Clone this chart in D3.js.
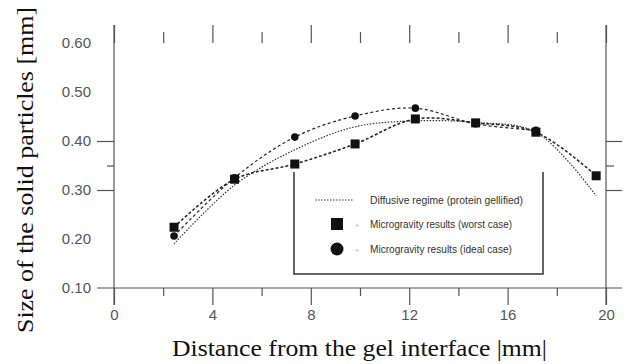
<!DOCTYPE html>
<html>
<head lang="en">
    <meta charset="UTF-8">
    <title>particles</title>
    <style>
        body { margin: 0; background: #fff; }
        .tick text { font-family: "Liberation Sans", Arial, sans-serif; font-size: 15px; fill: #555; }
        .title { font-family: "Liberation Serif", "Times New Roman", serif; font-size: 23px; fill: #111; }
        .legend text { font-family: "Liberation Sans", Arial, sans-serif; font-size: 10px; fill: #333; }
        .frame { stroke: #555; stroke-width: 1.2; }
    </style>
</head>
<body>
<svg width="629" height="364"></svg>

<script src="https://cdnjs.cloudflare.com/ajax/libs/d3/7.8.5/d3.min.js"></script>
<script>
    var distance = [2.44, 4.9, 7.35, 9.8, 12.25, 14.7, 17.15, 19.6];
    var worstCase = [0.224, 0.322, 0.353, 0.394, 0.445, 0.437, 0.418, 0.329];
    var idealCase = [0.206, 0.325, 0.408, 0.451, 0.467, 0.435, 0.422];
    var diffusive = [0.19, 0.31, 0.382, 0.429, 0.441, 0.438, 0.418, 0.288];
    var xTicks = [0, 4, 8, 12, 16, 20];
    var xMinorTicks = [2, 6, 10, 14, 18];
    var yTicks = [0.10, 0.20, 0.30, 0.40, 0.50, 0.60];
    var yMarkedTicks = [0.30, 0.40];
    var yMinorTicks = [0.35];
    var legendLabels = ["Diffusive regime (protein gellified)",
        "Microgravity results (worst case)",
        "Microgravity results (ideal case)"];

    var svg = d3.select("svg");

    var x = d3.scaleLinear().domain([0, 20]).range([114, 606]);
    var y = d3.scaleLinear().domain([0.10, 0.60]).range([288, 43]);

    // frame lines (they run a bit past the plot like in the scan)
    svg.append("line").attr("class", "frame")
            .attr("x1", x(0) - 17).attr("x2", x(20) + 16)
            .attr("y1", y(0.10)).attr("y2", y(0.10));
    svg.append("line").attr("class", "frame")
            .attr("x1", x(0)).attr("x2", x(0))
            .attr("y1", y(0.60) - 18).attr("y2", y(0.10) + 17);
    svg.append("line").attr("class", "frame")
            .attr("x1", x(20)).attr("x2", x(20))
            .attr("y1", y(0.60) - 18).attr("y2", y(0.10) + 17);

    function cleanAxis(g) {
        g.select(".domain").remove();
        g.selectAll(".tick line").attr("stroke", "#555").attr("stroke-width", 1.2);
    }

    // bottom
    svg.append("g").attr("transform", "translate(0," + y(0.10) + ")")
            .call(d3.axisBottom(x).tickValues(xTicks).tickSize(17).tickPadding(4).tickFormat(d3.format("d")))
            .call(cleanAxis);
    svg.append("g").attr("transform", "translate(0," + y(0.10) + ")")
            .call(d3.axisBottom(x).tickValues(xMinorTicks).tickSize(8).tickFormat(""))
            .call(cleanAxis);

    // top ticks, no line
    svg.append("g").attr("transform", "translate(0," + y(0.60) + ")")
            .call(d3.axisTop(x).tickValues(xTicks).tickSize(18).tickFormat(""))
            .call(cleanAxis);
    svg.append("g").attr("transform", "translate(0," + y(0.60) + ")")
            .call(d3.axisTop(x).tickValues(xMinorTicks).tickSize(11).tickFormat(""))
            .call(cleanAxis);

    // left labels + the few ticks that survive
    svg.append("g").attr("transform", "translate(" + x(0) + ",0)")
            .call(d3.axisLeft(y).tickValues(yTicks).tickSize(0).tickPadding(23).tickFormat(d3.format(".2f")))
            .call(cleanAxis);
    svg.append("g").attr("transform", "translate(" + x(0) + ",0)")
            .call(d3.axisLeft(y).tickValues(yMarkedTicks).tickSize(17).tickFormat(""))
            .call(cleanAxis);
    svg.append("g").attr("transform", "translate(" + x(0) + ",0)")
            .call(d3.axisLeft(y).tickValues(yMinorTicks).tickSize(7).tickFormat(""))
            .call(cleanAxis);

    // right ticks
    svg.append("g").attr("transform", "translate(" + x(20) + ",0)")
            .call(d3.axisRight(y).tickValues(yMarkedTicks).tickSize(16).tickFormat(""))
            .call(cleanAxis);
    svg.append("g").attr("transform", "translate(" + x(20) + ",0)")
            .call(d3.axisRight(y).tickValues(yMinorTicks).tickSize(8).tickFormat(""))
            .call(cleanAxis);

    // titles
    svg.append("text").attr("class", "title")
            .attr("x", 172).attr("y", 356)
            .attr("textLength", 375).attr("lengthAdjust", "spacingAndGlyphs")
            .text("Distance from the gel interface |mm|");
    svg.append("text").attr("class", "title")
            .attr("transform", "translate(33,333) rotate(-90)")
            .attr("textLength", 326).attr("lengthAdjust", "spacingAndGlyphs")
            .text("Size of the solid particles [mm]");

    // series
    var curve = d3.line()
            .x(function (d) { return x(d[0]); })
            .y(function (d) { return y(d[1]); })
            .curve(d3.curveCatmullRom.alpha(0.5));

    var diffPts = distance.map(function (d, i) { return [d, diffusive[i]]; });
    var worstPts = distance.map(function (d, i) { return [d, worstCase[i]]; });
    var idealPts = idealCase.map(function (v, i) { return [distance[i], v]; });

    svg.append("path").attr("d", curve(diffPts))
            .attr("fill", "none").attr("stroke", "#333")
            .attr("stroke-width", 1.2).attr("stroke-dasharray", "1.5,1.5");
    svg.append("path").attr("d", curve(worstPts))
            .attr("fill", "none").attr("stroke", "#222")
            .attr("stroke-width", 1.5).attr("stroke-dasharray", "3,2");
    svg.append("path").attr("d", curve(idealPts))
            .attr("fill", "none").attr("stroke", "#222")
            .attr("stroke-width", 1.2).attr("stroke-dasharray", "3,2.5");

    svg.selectAll("rect.worst")
            .data(worstPts)
            .enter()
            .append("rect")
            .attr("class", "worst")
            .attr("x", function (d) { return x(d[0]) - 4.5; })
            .attr("y", function (d) { return y(d[1]) - 4.5; })
            .attr("width", 9).attr("height", 9)
            .attr("fill", "#111");

    svg.selectAll("circle.ideal")
            .data(idealPts)
            .enter()
            .append("circle")
            .attr("class", "ideal")
            .attr("cx", function (d) { return x(d[0]); })
            .attr("cy", function (d) { return y(d[1]); })
            .attr("r", 3.8)
            .attr("fill", "#111");

    // legend
    var lg = svg.append("g").attr("class", "legend");
    lg.append("rect").attr("x", 294).attr("y", 172).attr("width", 249).attr("height", 102)
            .attr("fill", "#fff");
    lg.append("path").attr("d", "M294,172 V274 H543 V172")
            .attr("fill", "none").attr("stroke", "#333").attr("stroke-width", 1.5);

    lg.append("line").attr("x1", 315).attr("x2", 353).attr("y1", 200).attr("y2", 200)
            .attr("stroke", "#333").attr("stroke-width", 1.2).attr("stroke-dasharray", "1.5,1.5");
    lg.append("rect").attr("x", 331).attr("y", 218).attr("width", 12).attr("height", 12).attr("fill", "#111");
    lg.append("circle").attr("cx", 337).attr("cy", 249).attr("r", 6.5).attr("fill", "#111");

    var legendWidths = [153, 142, 142];
    lg.selectAll("text.lab")
            .data(legendLabels)
            .enter()
            .append("text")
            .attr("class", "lab")
            .attr("x", 370)
            .attr("y", function (d, i) { return 203.5 + i * 24.5; })
            .attr("textLength", function (d, i) { return legendWidths[i]; })
            .attr("lengthAdjust", "spacingAndGlyphs")
            .text(function (d) { return d; });
    lg.selectAll("text.plus")
            .data([1, 2])
            .enter()
            .append("text")
            .attr("class", "plus")
            .attr("x", 357)
            .attr("y", function (d) { return 203.5 + d * 24.5; })
            .attr("text-anchor", "middle")
            .style("fill", "#bbb").style("font-size", "8px")
            .text("+");
</script>
</body>
</html>
